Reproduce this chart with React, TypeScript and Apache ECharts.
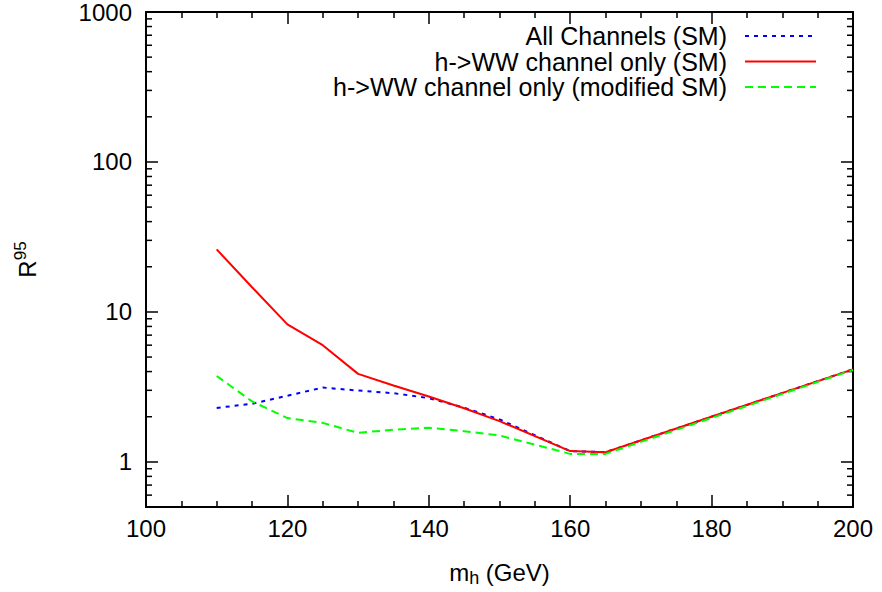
import React, { useEffect, useRef } from "react";
import * as echarts from "echarts";

// Higgs mass points (GeV) and 95% CL ratio R^95 for each channel set
const massAll = [110, 115, 120, 125, 130, 135, 140, 145, 150, 160, 165, 200];
const rAll = [2.29, 2.44, 2.76, 3.13, 2.99, 2.87, 2.66, 2.3, 1.92, 1.18, 1.16, 4.14];

const massWW = [110, 115, 120, 125, 130, 135, 140, 145, 150, 160, 165, 200];
const rWW = [26.1, 14.6, 8.26, 6.0, 3.86, 3.23, 2.73, 2.28, 1.87, 1.18, 1.16, 4.14];

const massMod = [110, 115, 120, 125, 130, 135, 140, 145, 150, 160, 165, 200];
const rMod = [3.74, 2.53, 1.96, 1.82, 1.56, 1.64, 1.69, 1.6, 1.5, 1.13, 1.13, 4.1];

const seriesNames = [
  "All Channels (SM)",
  "h->WW channel only (SM)",
  "h->WW channel only (modified SM)",
];

// log-axis decades and the minor tick values between them
const decadeLabels = [1, 10, 100, 1000];
const minorTickValues = [
  0.6, 0.7, 0.8, 0.9,
  2, 3, 4, 5, 6, 7, 8, 9,
  20, 30, 40, 50, 60, 70, 80, 90,
  200, 300, 400, 500, 600, 700, 800, 900,
];

const xMin = 100;
const xMax = 200;
const yMin = 0.5;
const yMax = 1000;

const FONT = "Liberation Sans, Arial, Helvetica, sans-serif";
const FS = 24;

export default function App() {
  const ref = useRef<HTMLDivElement>(null);

  useEffect(() => {
    document.body.style.margin = "0";
    if (!ref.current) return;
    const chart = echarts.init(ref.current, undefined, { renderer: "svg" });

    const frameLine = { show: true, onZero: false, lineStyle: { color: "#000", width: 2 } };

    const xAxisBase = {
      type: "value" as const,
      min: xMin,
      max: xMax,
      interval: 20,
      axisLine: frameLine,
      axisTick: { show: true, inside: true, length: 12, lineStyle: { color: "#000", width: 1.5 } },
      minorTick: { show: true, splitNumber: 4, length: 6, lineStyle: { color: "#000", width: 1.5 } },
      splitLine: { show: false },
      minorSplitLine: { show: false },
    };

    const yAxisBase = {
      type: "log" as const,
      logBase: 10,
      min: yMin,
      max: yMax,
      axisLine: frameLine,
      axisTick: { show: true, inside: true, length: 12, lineStyle: { color: "#000", width: 1.5 } },
      minorTick: { show: false },
      splitLine: { show: false },
    };

    const toPairs = (xs: number[], ys: number[]) => xs.map((x, i) => [x, ys[i]]);

    chart.setOption({
      animation: false,
      backgroundColor: "#fff",
      textStyle: { fontFamily: FONT },
      grid: { left: 146, right: 29, top: 12, bottom: 80, containLabel: false },
      legend: {
        data: seriesNames,
        orient: "vertical",
        align: "right",
        right: 65,
        top: 23.5,
        padding: 0,
        itemWidth: 71,
        itemHeight: 14,
        itemGap: 0.5,
        selectedMode: false,
        itemStyle: { color: "transparent", borderColor: "transparent", borderWidth: 0, opacity: 0 },
        textStyle: {
          fontFamily: FONT,
          fontSize: 25,
          color: "#000",
          lineHeight: 25,
          padding: [0, 13, 0, 0],
        },
      },
      xAxis: [
        {
          ...xAxisBase,
          position: "bottom",
          name: "{a|m}{sub|h}{a| (GeV)}",
          nameLocation: "middle",
          nameGap: 51,
          nameTextStyle: {
            rich: {
              a: { fontSize: FS, fontFamily: FONT, color: "#000" },
              sub: { fontSize: 18, fontFamily: FONT, color: "#000", padding: [11, 0, 0, 0] },
            },
          },
          axisLabel: { show: true, margin: 9, fontSize: FS, fontFamily: FONT, color: "#000" },
        },
        {
          ...xAxisBase,
          position: "top",
          axisLabel: { show: false },
        },
      ],
      yAxis: [
        {
          ...yAxisBase,
          position: "left",
          name: "{r|R}{sup|95}",
          nameLocation: "middle",
          nameRotate: 90,
          nameGap: 104,
          nameTextStyle: {
            rich: {
              r: { fontSize: FS, fontFamily: FONT, color: "#000" },
              sup: { fontSize: 17, fontFamily: FONT, color: "#000", padding: [0, 0, 13, 0] },
            },
          },
          axisLabel: {
            show: true,
            margin: 14,
            fontSize: FS,
            fontFamily: FONT,
            color: "#000",
            formatter: (v: number) => {
              const r = Math.round(v * 1000) / 1000;
              return decadeLabels.includes(r) ? String(r) : "";
            },
          },
        },
        {
          ...yAxisBase,
          position: "right",
          axisLabel: { show: false },
        },
      ],
      series: [
        {
          name: seriesNames[0],
          type: "line",
          xAxisIndex: 0,
          yAxisIndex: 0,
          data: toPairs(massAll, rAll),
          symbol: "none",
          lineStyle: { color: "#0000ff", width: 2, type: [4, 5] },
          itemStyle: { color: "#0000ff" },
        },
        {
          name: seriesNames[1],
          type: "line",
          xAxisIndex: 0,
          yAxisIndex: 0,
          data: toPairs(massWW, rWW),
          symbol: "none",
          lineStyle: { color: "#ff0000", width: 2, type: "solid" },
          itemStyle: { color: "#ff0000" },
        },
        {
          name: seriesNames[2],
          type: "line",
          xAxisIndex: 0,
          yAxisIndex: 0,
          data: toPairs(massMod, rMod),
          symbol: "none",
          lineStyle: { color: "#00ff00", width: 2, type: [8, 5] },
          itemStyle: { color: "#00ff00" },
        },
        {
          // minor ticks of the log axis, mirrored on both vertical edges
          name: "minorTicks",
          type: "custom",
          xAxisIndex: 0,
          yAxisIndex: 0,
          silent: true,
          clip: false,
          data: minorTickValues.map((v) => [xMin, v]),
          encode: { x: 0, y: 1 },
          renderItem: (params: any, api: any) => {
            const cs = params.coordSys;
            const y = api.coord([xMin, api.value(1)])[1];
            const style = { stroke: "#000", lineWidth: 1.5 };
            return {
              type: "group",
              children: [
                { type: "line", shape: { x1: cs.x, y1: y, x2: cs.x + 6, y2: y }, style },
                {
                  type: "line",
                  shape: { x1: cs.x + cs.width - 6, y1: y, x2: cs.x + cs.width, y2: y },
                  style,
                },
              ],
            };
          },
        },
      ],
    });

    return () => chart.dispose();
  }, []);

  return <div ref={ref} style={{ width: 882, height: 592 }} />;
}
